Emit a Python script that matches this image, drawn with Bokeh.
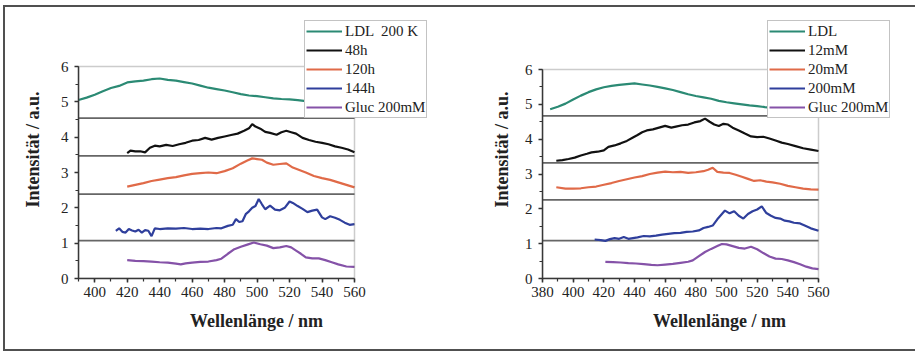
from bokeh.plotting import figure
from bokeh.models import Legend, LegendItem, SingleIntervalTicker, Range1d, BoxAnnotation
from bokeh.layouts import row
from bokeh.embed import file_html
from bokeh.resources import INLINE

# ---------------- data: left panel ----------------
left_ldl_nm = [390, 395, 400, 405, 410, 415, 420, 425, 430, 435, 440, 445, 450, 455, 460, 465, 470, 475,
               480, 485, 490, 495, 500, 505, 510, 515, 520, 525, 530, 535, 540, 545, 550, 555, 560]
left_ldl_val = [5.05, 5.12, 5.20, 5.30, 5.39, 5.45, 5.55, 5.58, 5.60, 5.64, 5.66, 5.62, 5.60, 5.56, 5.52, 5.46,
                5.40, 5.36, 5.32, 5.27, 5.22, 5.18, 5.16, 5.13, 5.10, 5.08, 5.07, 5.05, 5.02, 5.00, 4.99, 4.97,
                4.96, 4.95, 4.94]

left_48h_nm = [420, 422, 425, 428, 431, 434, 437, 440, 444, 448, 452, 456, 460, 464, 468, 472, 476, 480, 484,
               488, 492, 495, 497, 499, 502, 505, 508, 512, 515, 518, 521, 524, 528, 532, 536, 540, 544, 548,
               552, 556, 560]
left_48h_val = [3.55, 3.62, 3.60, 3.60, 3.57, 3.70, 3.76, 3.74, 3.78, 3.75, 3.80, 3.84, 3.90, 3.92, 3.98, 3.93,
                3.98, 4.02, 4.06, 4.10, 4.18, 4.25, 4.37, 4.30, 4.24, 4.15, 4.12, 4.07, 4.14, 4.18, 4.14, 4.10,
                3.98, 3.92, 3.87, 3.84, 3.80, 3.74, 3.70, 3.65, 3.57]

left_120h_nm = [420, 425, 430, 435, 440, 445, 450, 455, 460, 465, 470, 475, 480, 485, 490, 494, 497, 500, 503,
                506, 510, 514, 518, 522, 526, 530, 535, 540, 545, 550, 555, 560]
left_120h_val = [2.60, 2.65, 2.70, 2.76, 2.80, 2.84, 2.87, 2.92, 2.96, 2.98, 3.00, 2.98, 3.04, 3.12, 3.25, 3.34,
                 3.40, 3.38, 3.36, 3.28, 3.22, 3.24, 3.26, 3.14, 3.07, 3.00, 2.90, 2.84, 2.79, 2.72, 2.65, 2.58]

left_144h_nm = [413, 415, 417, 419, 421, 423, 425, 427, 429, 431, 433, 435, 437, 440, 445, 450, 455, 460, 465,
                470, 475, 478, 482, 485, 487, 489, 491, 493, 495, 497, 499, 501, 503, 505, 508, 511, 514, 517,
                520, 522, 525, 528, 531, 534, 537, 540, 542, 545, 548, 551, 554, 557, 560]
left_144h_val = [1.35, 1.42, 1.32, 1.30, 1.40, 1.36, 1.33, 1.38, 1.30, 1.37, 1.35, 1.20, 1.42, 1.40, 1.42, 1.41,
                 1.43, 1.40, 1.41, 1.40, 1.43, 1.42, 1.49, 1.52, 1.68, 1.60, 1.62, 1.82, 1.90, 2.00, 2.05, 2.25,
                 2.10, 1.96, 2.06, 1.95, 1.93, 2.00, 2.18, 2.14, 2.05, 1.97, 1.88, 1.92, 1.95, 1.73, 1.68, 1.76,
                 1.72, 1.66, 1.58, 1.52, 1.54]

left_gluc_nm = [420, 425, 430, 435, 440, 445, 450, 453, 456, 460, 465, 470, 475, 478, 482, 486, 490, 494, 498,
                502, 506, 510, 514, 518, 521, 524, 527, 530, 534, 538, 542, 546, 550, 555, 560]
left_gluc_val = [0.52, 0.50, 0.49, 0.48, 0.46, 0.45, 0.42, 0.40, 0.43, 0.45, 0.47, 0.48, 0.52, 0.56, 0.70, 0.83,
                 0.90, 0.96, 1.02, 0.97, 0.93, 0.86, 0.88, 0.92, 0.88, 0.79, 0.70, 0.60, 0.57, 0.57, 0.52, 0.46,
                 0.40, 0.34, 0.33]

left_separators = [4.54, 3.47, 2.39, 1.07]
left_labels = ["LDL  200 K", "48h", "120h", "144h", "Gluc 200mM"]

# ---------------- data: right panel ----------------
right_ldl_nm = [385, 390, 395, 400, 405, 410, 415, 420, 425, 430, 435, 440, 445, 450, 455, 460, 465, 470, 475,
                480, 485, 490, 495, 500, 505, 510, 515, 520, 525, 530, 535, 540, 545, 550, 555, 560]
right_ldl_val = [4.86, 4.93, 5.02, 5.14, 5.25, 5.35, 5.43, 5.49, 5.53, 5.56, 5.58, 5.60, 5.57, 5.54, 5.50, 5.46,
                 5.41, 5.35, 5.29, 5.24, 5.20, 5.16, 5.10, 5.06, 5.03, 5.00, 4.97, 4.95, 4.92, 4.90, 4.88, 4.87,
                 4.86, 4.85, 4.84, 4.83]

right_12mm_nm = [389, 393, 397, 401, 405, 409, 412, 416, 420, 423, 427, 431, 435, 439, 442, 445, 448, 452, 456,
                 460, 464, 467, 471, 475, 479, 483, 486, 489, 492, 495, 498, 501, 504, 508, 512, 516, 520, 524,
                 528, 532, 536, 540, 545, 550, 555, 560]
right_12mm_val = [3.38, 3.40, 3.43, 3.47, 3.53, 3.58, 3.62, 3.64, 3.68, 3.78, 3.82, 3.88, 3.95, 4.05, 4.12, 4.20,
                  4.25, 4.28, 4.33, 4.38, 4.33, 4.36, 4.40, 4.42, 4.48, 4.52, 4.59, 4.50, 4.42, 4.38, 4.44, 4.42,
                  4.33, 4.25, 4.16, 4.08, 4.06, 4.07, 4.02, 3.96, 3.90, 3.86, 3.80, 3.74, 3.70, 3.66]

right_20mm_nm = [389, 395, 400, 405, 410, 415, 420, 425, 430, 435, 440, 445, 450, 455, 460, 465, 470, 475, 480,
                 485, 488, 491, 494, 498, 502, 506, 510, 514, 518, 522, 526, 530, 535, 540, 545, 550, 555, 560]
right_20mm_val = [2.62, 2.58, 2.58, 2.59, 2.62, 2.64, 2.69, 2.74, 2.80, 2.85, 2.90, 2.94, 3.00, 3.04, 3.07, 3.05,
                  3.06, 3.03, 3.05, 3.08, 3.12, 3.18, 3.06, 3.04, 3.03, 2.98, 2.92, 2.86, 2.80, 2.82, 2.78, 2.76,
                  2.72, 2.66, 2.62, 2.58, 2.56, 2.55]

right_200mm_nm = [414, 418, 421, 424, 427, 430, 433, 436, 439, 442, 446, 450, 454, 458, 462, 466, 470, 474, 478,
                  482, 485, 488, 491, 494, 497, 499, 502, 505, 508, 511, 514, 517, 520, 523, 526, 529, 532, 535,
                  538, 541, 544, 548, 551, 555, 560]
right_200mm_val = [1.12, 1.10, 1.08, 1.13, 1.16, 1.14, 1.19, 1.14, 1.16, 1.18, 1.22, 1.21, 1.23, 1.26, 1.28, 1.30,
                   1.31, 1.34, 1.35, 1.38, 1.45, 1.48, 1.52, 1.70, 1.85, 1.95, 1.87, 1.93, 1.80, 1.72, 1.85, 1.93,
                   1.98, 2.07, 1.88, 1.80, 1.74, 1.72, 1.66, 1.64, 1.60, 1.58, 1.52, 1.44, 1.37]

right_gluc_nm = [421, 426, 431, 436, 441, 446, 451, 455, 460, 465, 470, 475, 478, 482, 486, 490, 494, 497, 500,
                 504, 508, 512, 516, 520, 524, 528, 532, 536, 540, 544, 548, 552, 556, 560]
right_gluc_val = [0.48, 0.47, 0.46, 0.44, 0.43, 0.41, 0.39, 0.38, 0.40, 0.42, 0.45, 0.48, 0.52, 0.64, 0.76, 0.85,
                  0.93, 0.99, 0.98, 0.93, 0.88, 0.86, 0.91, 0.84, 0.73, 0.63, 0.57, 0.56, 0.52, 0.47, 0.41, 0.34,
                  0.29, 0.27]

right_separators = [4.67, 3.32, 2.26, 1.09]
right_labels = ["LDL", "12mM", "20mM", "200mM", "Gluc 200mM"]

colors = ["#2b8a74", "#111111", "#e06a48", "#2f3f9c", "#8552a8"]

x_title = "Wellenlänge / nm"
y_title = "Intensität / a.u."

X_END = 560
Y_MAX = 6
SERIF = "Liberation Serif"
FIG_H = 342


def make_panel(series, labels, separators, x_start, box_w, box_h, ext_w, ext_h,
               border_left, border_right, border_top, legend_loc, ytitle_standoff):
    # the frame is enlarged to the right and upwards so the legend can overhang the data box
    x_hi = x_start + ext_w * (X_END - x_start) / box_w
    y_hi = ext_h * Y_MAX / box_h
    p = figure(output_backend="svg", toolbar_location=None,
               frame_width=ext_w, frame_height=ext_h,
               min_border_left=border_left, min_border_right=border_right,
               min_border_top=border_top, min_border_bottom=FIG_H - border_top - ext_h,
               x_range=Range1d(x_start, x_hi), y_range=Range1d(0, y_hi))
    p.background_fill_color = "white"
    p.border_fill_color = "white"
    p.outline_line_color = None
    p.xgrid.visible = False
    p.ygrid.visible = False

    # data box outline
    p.add_layout(BoxAnnotation(left=x_start, right=X_END, bottom=0, top=Y_MAX,
                               fill_alpha=0, line_color="#555555", line_width=1.5))
    # horizontal separators between stacked spectra
    n = len(separators)
    p.segment(x0=[x_start] * n, x1=[X_END] * n, y0=separators, y1=separators,
              line_color="#666666", line_width=1.8)

    renderers = []
    for (nm, val), c in zip(series, colors):
        r = p.line(nm, val, line_color=c, line_width=2.2)
        renderers.append(r)

    p.xaxis.ticker = SingleIntervalTicker(interval=20, num_minor_ticks=2)
    p.yaxis.ticker = SingleIntervalTicker(interval=1, num_minor_ticks=2)
    p.xaxis.bounds = (x_start, X_END)
    p.yaxis.bounds = (0, Y_MAX)
    for ax in (p.xaxis[0], p.yaxis[0]):
        ax.axis_line_color = "#333333"
        ax.axis_line_width = 1.5
        ax.major_tick_line_color = "#333333"
        ax.minor_tick_line_color = "#333333"
        ax.major_tick_line_width = 1.5
        ax.minor_tick_line_width = 1.2
        ax.major_tick_in = 0
        ax.major_tick_out = 4
        ax.minor_tick_in = 0
        ax.minor_tick_out = 3
        ax.major_label_text_font = SERIF
        ax.major_label_text_font_size = "15px"
        ax.major_label_text_color = "#222222"
        ax.axis_label_text_font = SERIF
        ax.axis_label_text_font_size = "18px"
        ax.axis_label_text_font_style = "bold"
        ax.axis_label_text_color = "#222222"
    p.xaxis.axis_label = x_title
    p.yaxis.axis_label = y_title
    p.xaxis.major_label_standoff = 4
    p.xaxis.axis_label_standoff = 11
    p.yaxis.major_label_standoff = 6
    p.yaxis.axis_label_standoff = ytitle_standoff

    legend = Legend(items=[LegendItem(label=lab, renderers=[r]) for lab, r in zip(labels, renderers)],
                    location=legend_loc)
    legend.label_text_font = SERIF
    legend.label_text_font_size = "15px"
    legend.label_text_color = "#222222"
    legend.glyph_width = 36
    legend.glyph_height = 18
    legend.label_height = 18
    legend.spacing = 1
    legend.padding = 1
    legend.margin = 0
    legend.label_standoff = 3
    legend.border_line_color = "#888888"
    legend.border_line_width = 1.5
    legend.background_fill_color = "white"
    legend.background_fill_alpha = 1.0
    p.add_layout(legend, "center")
    return p


left_series = [(left_ldl_nm, left_ldl_val), (left_48h_nm, left_48h_val), (left_120h_nm, left_120h_val),
               (left_144h_nm, left_144h_val), (left_gluc_nm, left_gluc_val)]
right_series = [(right_ldl_nm, right_ldl_val), (right_12mm_nm, right_12mm_val), (right_20mm_nm, right_20mm_val),
                (right_200mm_nm, right_200mm_val), (right_gluc_nm, right_gluc_val)]

p1 = make_panel(left_series, left_labels, left_separators, 390, 276, 212, 356, 258,
                73, 21, 13, (226, 160), 15)
p2 = make_panel(right_series, right_labels, right_separators, 380, 276, 209, 354, 258,
                87, 19, 13, (225, 160), 10)

layout = row(p1, p2, styles={"border-left": "2px solid #505050", "border-top": "2px solid #505050",
                             "border-bottom": "2px solid #505050",
                             "margin-left": "3px", "margin-top": "5px"})

open("out.html", "w").write(file_html(layout, INLINE))
